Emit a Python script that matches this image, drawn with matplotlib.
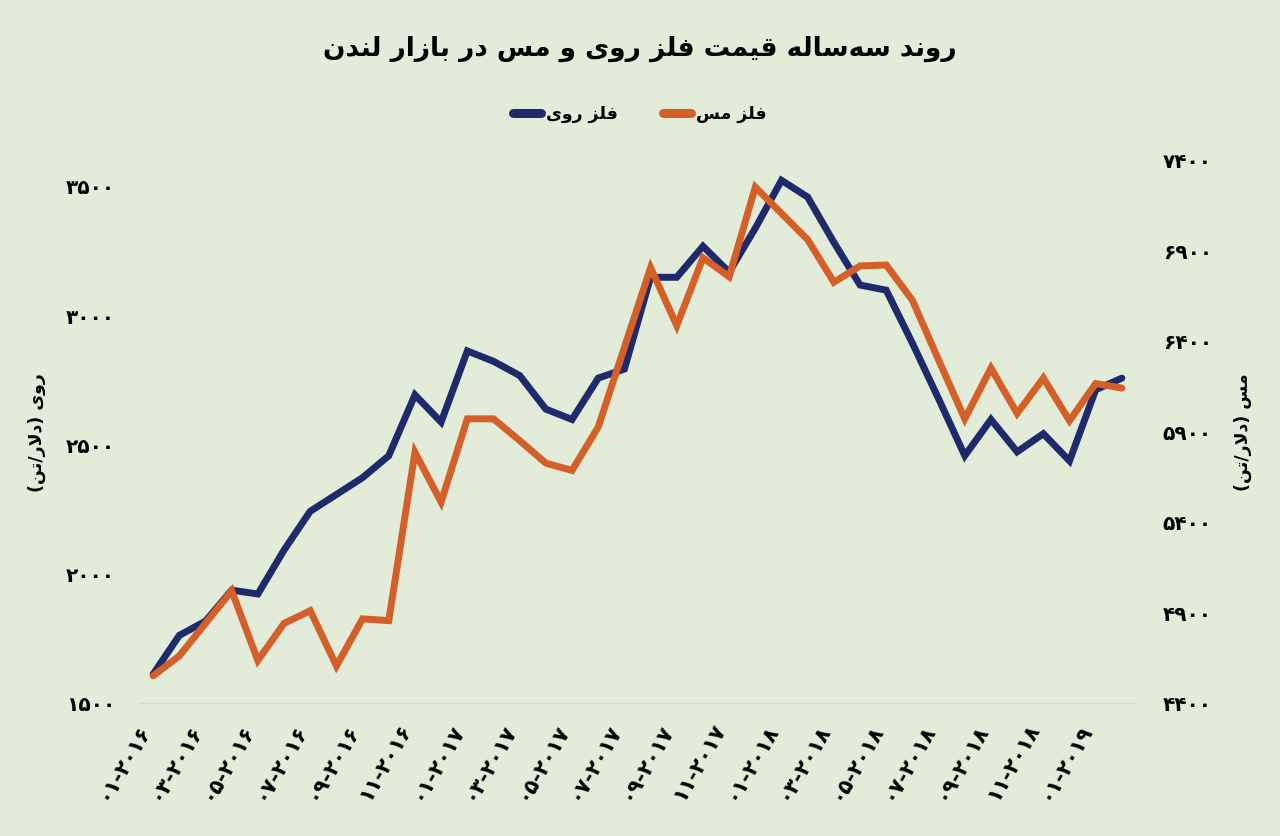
import matplotlib
matplotlib.use("Agg")
import matplotlib.pyplot as plt
from matplotlib.lines import Line2D

# ---- data ----
zinc = [1615, 1765, 1820, 1940, 1925, 2095, 2245, 2310, 2375, 2460,
        2695, 2590, 2865, 2825, 2770, 2640, 2600, 2760, 2795, 3150,
        3150, 3270, 3170, 3340, 3525, 3460, 3285, 3120, 3100, 2895,
        2680, 2460, 2600, 2475, 2545, 2440, 2715, 2760]
copper = [4555, 4665, 4845, 5025, 4640, 4845, 4915, 4610, 4870, 4860,
          5790, 5515, 5975, 5975, 5855, 5730, 5690, 5930, 6370, 6810,
          6490, 6865, 6760, 7255, 7110, 6965, 6730, 6820, 6825, 6630,
          6300, 5975, 6255, 6005, 6200, 5965, 6170, 6145]
start_year = 2016
zinc_ticks = [1500, 2000, 2500, 3000, 3500]
copper_ticks = [4400, 4900, 5400, 5900, 6400, 6900, 7400]

title = "روند سه\u200cساله قیمت فلز روی و مس در بازار لندن"
zinc_name = "فلز روی"
copper_name = "فلز مس"
zinc_axis = "روی (دلار/تن)"
copper_axis = "مس (دلار/تن)"

# ---- simple persian shaping (no bidi lib available) ----
FORMS = {
    'ا': ('\uFE8D', '\uFE8E', None, None),
    'ب': ('\uFE8F', '\uFE90', '\uFE91', '\uFE92'),
    'ت': ('\uFE95', '\uFE96', '\uFE97', '\uFE98'),
    'د': ('\uFEA9', '\uFEAA', None, None),
    'ر': ('\uFEAD', '\uFEAE', None, None),
    'ز': ('\uFEAF', '\uFEB0', None, None),
    'س': ('\uFEB1', '\uFEB2', '\uFEB3', '\uFEB4'),
    'ف': ('\uFED1', '\uFED2', '\uFED3', '\uFED4'),
    'ق': ('\uFED5', '\uFED6', '\uFED7', '\uFED8'),
    'ل': ('\uFEDD', '\uFEDE', '\uFEDF', '\uFEE0'),
    'م': ('\uFEE1', '\uFEE2', '\uFEE3', '\uFEE4'),
    'ن': ('\uFEE5', '\uFEE6', '\uFEE7', '\uFEE8'),
    'ه': ('\uFEE9', '\uFEEA', '\uFEEB', '\uFEEC'),
    'و': ('\uFEED', '\uFEEE', None, None),
    'ی': ('\uFEEF', '\uFEF0', '\uFEF3', '\uFEF4'),
}


def fa(s):
    out = []
    i = 0
    while i < len(s):
        ch = s[i]
        if ch not in FORMS:
            if ch != '\u200c':
                out.append(ch)
            i += 1
            continue
        prev = s[i - 1] if i > 0 else ''
        prev_j = prev in FORMS and FORMS[prev][2] is not None
        if ch == 'ل' and i + 1 < len(s) and s[i + 1] == 'ا':
            out.append('\uFEFC' if prev_j else '\uFEFB')
            i += 2
            continue
        nxt = s[i + 1] if i + 1 < len(s) else ''
        next_j = nxt in FORMS and FORMS[ch][2] is not None
        f = FORMS[ch]
        if prev_j and next_j:
            out.append(f[3])
        elif prev_j:
            out.append(f[1])
        elif next_j:
            out.append(f[2])
        else:
            out.append(f[0])
        i += 1
    vis = ''.join(reversed(out))
    return vis.translate(str.maketrans('()', ')('))


def fdig(v):
    return str(v).translate(str.maketrans('0123456789', '۰۱۲۳۴۵۶۷۸۹'))


plt.rcParams['font.family'] = 'DejaVu Sans'
plt.rcParams['font.weight'] = 'bold'

bg = '#e2ecd8'
navy = '#1f2a6c'
orange = '#d55f28'

fig = plt.figure(figsize=(12.8, 8.36), dpi=100, facecolor=bg)
ax = fig.add_axes([0.1094, 0.158, 0.7773, 0.6495])
ax.set_facecolor(bg)
ax2 = ax.twinx()

x = list(range(len(zinc)))
ax.plot(x, zinc, color=navy, lw=5, solid_capstyle='round',
        solid_joinstyle='miter', zorder=3)
ax2.plot(x, copper, color=orange, lw=5, solid_capstyle='round',
         solid_joinstyle='miter', zorder=3)

ax.set_xlim(-0.5, len(zinc) - 0.5)
ax.set_ylim(1500, 3600)
ax2.set_ylim(4400, 7400)

xt = list(range(0, len(zinc), 2))
xl = [fdig(f"{(t % 12) + 1:02d}-{start_year + t // 12}") for t in xt]
ax.set_xticks(xt)
ax.set_xticklabels(xl, rotation=60, ha='right', va='top',
                   fontsize=15, fontweight='bold')
ax.set_yticks(zinc_ticks)
ax.set_yticklabels([fdig(v) for v in zinc_ticks], fontsize=14.5, fontweight='bold')
ax2.set_yticks(copper_ticks)
ax2.set_yticklabels([fdig(v) for v in copper_ticks], fontsize=14.5, fontweight='bold')

ax.tick_params(axis='both', length=0)
ax.tick_params(axis='y', pad=18)
ax.tick_params(axis='x', pad=12)
ax2.tick_params(axis='y', length=0, pad=20)

for a in (ax, ax2):
    for side in ('top', 'left', 'right', 'bottom'):
        a.spines[side].set_visible(False)
ax.axhline(1500, color='#cfd6c8', lw=1.2, zorder=1)

ax.set_ylabel(fa(zinc_axis), fontsize=12.5, fontweight='bold', labelpad=14, rotation=90)
ax2.set_ylabel(fa(copper_axis), fontsize=12.5, fontweight='bold', labelpad=16, rotation=90)

fig.text(0.5, 0.942, fa(title), ha='center', va='center',
         fontsize=19, fontweight='bold')

handles = [Line2D([], [], color=navy, lw=6.5, solid_capstyle='round'),
           Line2D([], [], color=orange, lw=6.5, solid_capstyle='round')]
fig.legend(handles, [fa(zinc_name), fa(copper_name)], loc='center',
           bbox_to_anchor=(0.5, 0.864), ncol=2, frameon=False,
           prop={'size': 12.5, 'weight': 'bold'}, handlelength=1.6,
           handletextpad=0.3, columnspacing=2.6)

fig.savefig('out.png', dpi=100, facecolor=bg)
